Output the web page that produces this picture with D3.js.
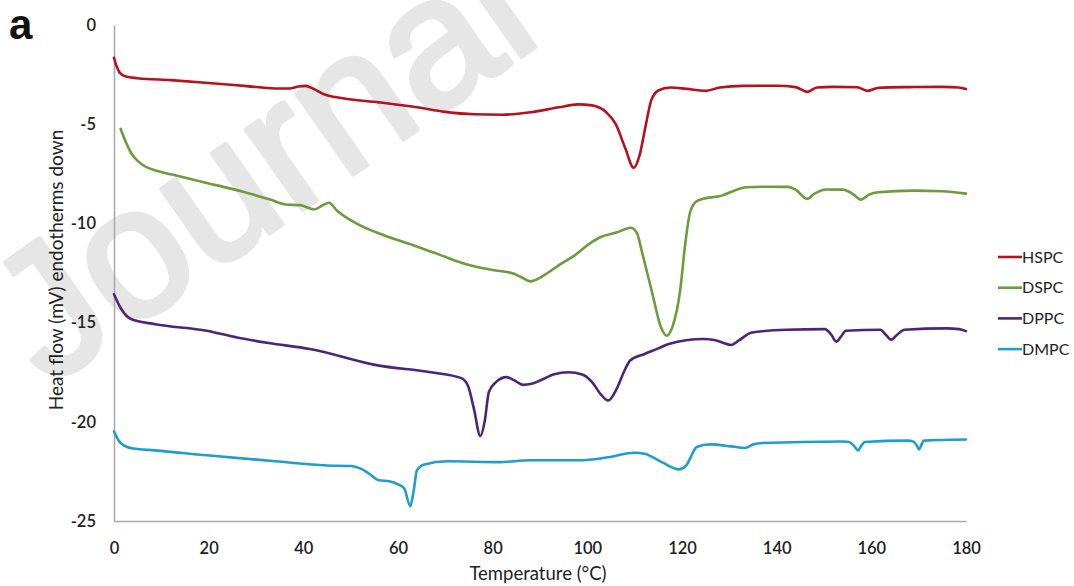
<!DOCTYPE html>
<html>
<head>
<meta charset="utf-8">
<script src="https://cdn.jsdelivr.net/npm/d3@7"></script>
<style>
  html, body { margin: 0; padding: 0; background: #ffffff; }
  svg { display: block; }
</style>
</head>
<body>
<svg id="chart" width="1074" height="586"></svg>
<script>
// DSC thermograms: heat flow (mV, endotherms down) against temperature (°C)
const seriesNames = ["HSPC", "DSPC", "DPPC", "DMPC"];
const seriesColors = ["#b5121b", "#6c9c3c", "#4d2478", "#1f9dcc"];

const xTicks = [0, 20, 40, 60, 80, 100, 120, 140, 160, 180];
const yTicks = [0, -5, -10, -15, -20, -25];

// [temperature, heat flow] pairs for each lipid
const hspc = [
  [0, -1.65], [0.5, -2.05], [1.2, -2.4], [2.5, -2.6], [5, -2.68], [12, -2.78], [20, -2.92],
  [28, -3.08], [34, -3.2], [37, -3.2], [39, -3.1], [40.5, -3.07], [42, -3.2], [44.5, -3.5],
  [48, -3.68], [56, -3.9], [64, -4.15], [70, -4.38], [76, -4.5], [82, -4.52], [88, -4.4],
  [94, -4.15], [98, -4.0], [101, -4.05], [104, -4.4], [106, -5.0], [108, -6.2], [109.8, -7.2],
  [111, -6.6], [112.3, -5.1], [113.5, -3.8], [115, -3.3], [117.5, -3.15], [121, -3.22],
  [125, -3.32], [128, -3.15], [133, -3.07], [140, -3.06], [144, -3.13], [146.5, -3.37],
  [148.5, -3.15], [152, -3.12], [157, -3.14], [159.3, -3.32], [161.5, -3.16], [168, -3.13],
  [175, -3.12], [178.5, -3.15], [180, -3.23]
];

const dspc = [
  [1.4, -5.24], [2.5, -5.9], [3.6, -6.45], [5, -6.85], [6.5, -7.12], [9, -7.35], [12.3, -7.54],
  [19.6, -7.96], [26.9, -8.38], [33, -8.8], [36.3, -9.05], [39.3, -9.08], [42.3, -9.3],
  [44, -9.1], [45.4, -8.96], [47.2, -9.38], [51.6, -10.05], [57, -10.6], [63.2, -11.1],
  [69, -11.6], [74.2, -12.05], [80, -12.35], [84, -12.5], [86, -12.7], [88, -12.92],
  [91.6, -12.5], [94, -12.1], [97.4, -11.6], [100, -11.1], [102.7, -10.7], [106.3, -10.45],
  [109.2, -10.22], [110.5, -10.5], [111.5, -11.4], [113.7, -13.5], [115.5, -15.2],
  [116.7, -15.66], [118, -15.2], [119.6, -13.4], [120.7, -11.0], [121.7, -9.45], [123, -8.9],
  [124.5, -8.76], [128.4, -8.6], [131, -8.35], [133.5, -8.18], [138, -8.15], [142.4, -8.16],
  [144, -8.3], [146.4, -8.76], [148, -8.5], [150.4, -8.29], [154, -8.3], [156, -8.5],
  [157.8, -8.8], [159.5, -8.55], [161.4, -8.43], [168.8, -8.35], [175, -8.38], [180, -8.5]
];

const dppc = [
  [0, -13.57], [1.5, -14.3], [3.6, -14.82], [8.7, -15.08], [19.6, -15.41], [26, -15.75],
  [32.7, -16.03], [41.4, -16.33], [56, -17.17], [66.9, -17.5], [73.4, -17.8], [74.8, -18.2],
  [76, -19.3], [77.4, -20.72], [78.3, -20.0], [79.2, -18.5], [80.7, -18.0], [82.9, -17.75],
  [84.5, -17.9], [86.5, -18.14], [88, -18.1], [90, -17.92], [93, -17.6], [96, -17.5],
  [98.9, -17.62], [101, -18.0], [102.8, -18.6], [104.4, -18.93], [106.2, -18.34],
  [107.7, -17.5], [109.1, -16.9], [112.1, -16.58], [115, -16.3], [117.2, -16.08],
  [124.5, -15.83], [126.8, -15.88], [128.5, -16.0], [130.4, -16.13], [132, -15.9],
  [134.8, -15.5], [142.1, -15.36], [150.2, -15.33], [151.5, -15.6], [152.6, -15.96],
  [153.6, -15.7], [154.6, -15.41], [161.9, -15.36], [163, -15.6], [164.2, -15.86],
  [165.5, -15.6], [167, -15.36], [175.9, -15.29], [178.5, -15.33], [180, -15.43]
];

const dmpc = [
  [0, -20.49], [1, -20.95], [2.1, -21.19], [4, -21.35], [8.7, -21.44], [19.6, -21.69],
  [34.1, -21.99], [45, -22.2], [50.1, -22.23], [52, -22.35], [53.8, -22.6], [56, -22.95],
  [58.1, -23.0], [60, -23.15], [61.3, -23.35], [62.6, -24.25], [63.3, -23.5], [64, -22.45],
  [65.4, -22.16], [70.5, -21.99], [81.4, -22.03], [87.9, -21.94], [98.2, -21.94],
  [104.8, -21.77], [109.9, -21.56], [112.1, -21.61], [115.7, -22.03], [119.4, -22.4],
  [120.9, -22.2], [122, -21.7], [123.1, -21.27], [126, -21.14], [130.4, -21.24],
  [133.3, -21.32], [135, -21.15], [137, -21.07], [153.9, -20.99], [155.3, -21.02],
  [156.3, -21.2], [157.2, -21.44], [157.9, -21.2], [158.6, -21.02], [167.7, -20.95],
  [168.9, -21.0], [169.6, -21.2], [170.1, -21.39], [170.6, -21.15], [171.1, -20.95],
  [180, -20.89]
];

const seriesData = [hspc, dspc, dppc, dmpc];

const svg = d3.select("#chart");
const font = "Lato, 'Open Sans', sans-serif";

// faint diagonal watermark behind the plot
svg.append("text")
  .attr("transform", "translate(48,388) rotate(-35)")
  .attr("font-family", "'Liberation Sans', Arial, sans-serif")
  .attr("font-size", 185)
  .attr("fill", "#e6e6e6")
  .attr("stroke", "#e6e6e6")
  .attr("stroke-width", 5)
  .attr("stroke-linejoin", "round")
  .text("Journal");

const x = d3.scaleLinear().domain([0, 180]).range([114, 966]);
const y = d3.scaleLinear().domain([-25, 0]).range([521, 25]);

const xAxis = svg.append("g")
  .attr("transform", `translate(0,${y(-25)})`)
  .call(d3.axisBottom(x).tickValues(xTicks).tickSize(0).tickSizeOuter(0).tickPadding(21)
    .tickFormat(d => String(d)));

const yAxis = svg.append("g")
  .attr("transform", `translate(${x(0)},0)`)
  .call(d3.axisLeft(y).tickValues(yTicks).tickSize(0).tickSizeOuter(0).tickPadding(18)
    .tickFormat(d => String(d)));

[xAxis, yAxis].forEach(g => {
  g.select(".domain").attr("stroke", "#a9a9a9").attr("stroke-width", 1.5);
  g.selectAll("text")
    .attr("font-family", font)
    .attr("font-size", 16.5)
    .attr("font-weight", 600)
    .attr("fill", "#1e1e1e");
});

// curves
const line = d3.line()
  .x(d => x(d[0]))
  .y(d => y(d[1]))
  .curve(d3.curveMonotoneX);

svg.append("g").selectAll("path")
  .data(seriesData)
  .join("path")
  .attr("d", line)
  .attr("fill", "none")
  .attr("stroke", (d, i) => seriesColors[i])
  .attr("stroke-width", 2.6)
  .attr("stroke-linejoin", "round")
  .attr("stroke-linecap", "round");

// axis titles
svg.append("text")
  .attr("x", 538)
  .attr("y", 580)
  .attr("text-anchor", "middle")
  .attr("font-family", font)
  .attr("font-size", 18.5)
  .attr("fill", "#222")
  .text("Temperature (°C)");

svg.append("text")
  .attr("transform", "translate(63,270) rotate(-90)")
  .attr("text-anchor", "middle")
  .attr("font-family", font)
  .attr("font-size", 19)
  .attr("fill", "#222")
  .text("Heat flow (mV) endotherms down");

// panel letter
svg.append("text")
  .attr("x", 9)
  .attr("y", 39)
  .attr("font-family", "'Liberation Sans', Arial, sans-serif")
  .attr("font-weight", "bold")
  .attr("font-size", 42)
  .attr("fill", "#111")
  .text("a");

// legend
const legend = svg.append("g").selectAll("g")
  .data(seriesNames)
  .join("g")
  .attr("transform", (d, i) => `translate(998,${257 + i * 30.7})`);

legend.append("line")
  .attr("x1", 0).attr("x2", 24)
  .attr("stroke", (d, i) => seriesColors[i])
  .attr("stroke-width", 2.6);

legend.append("text")
  .attr("x", 24)
  .attr("dy", "0.36em")
  .attr("font-family", font)
  .attr("font-size", 16)
  .attr("fill", "#222")
  .text(d => d);
</script>
</body>
</html>
